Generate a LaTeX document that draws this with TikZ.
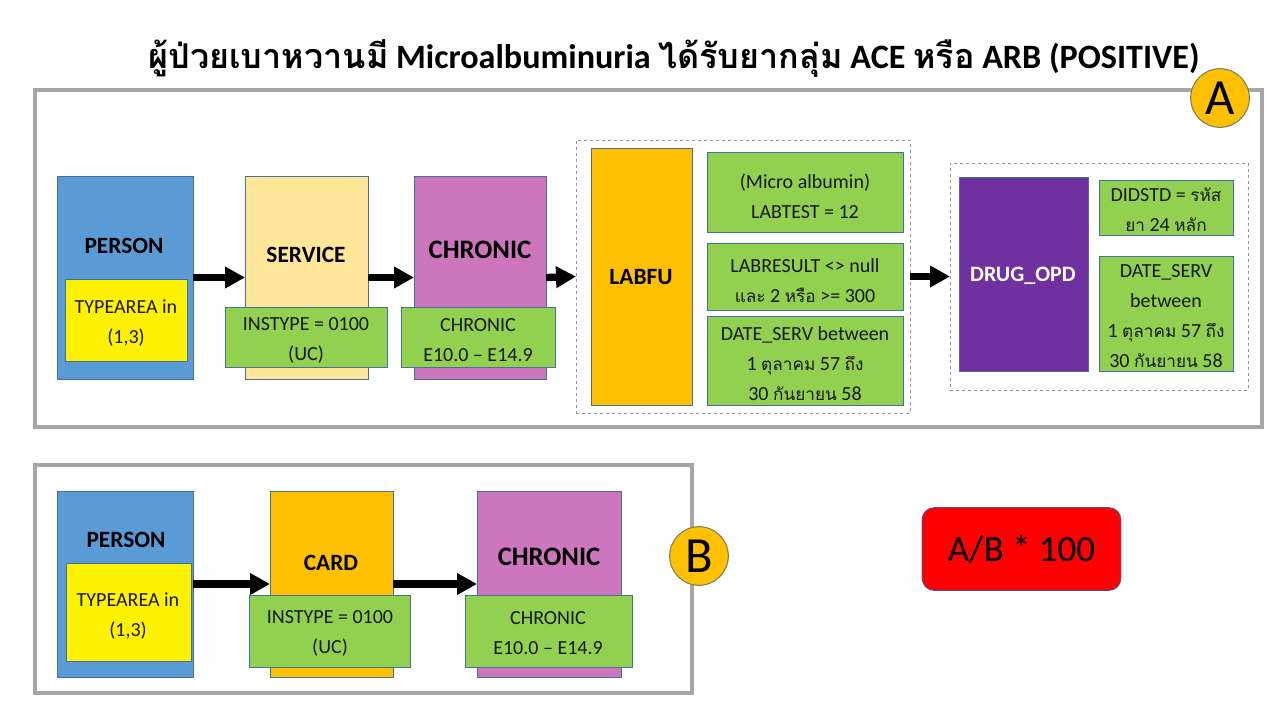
\documentclass[tikz,border=0pt]{standalone}
\usepackage{fontspec}
\setmainfont{Carlito}
\newfontfamily\thai[Script=Thai]{Loma}
\newfontfamily\thaibox[Script=Thai,Scale=0.86]{Loma}
\newcommand\thx[1]{{\thai #1}}
\newcommand\ths[1]{{\thaibox #1}}
\usetikzlibrary{arrows.meta,fit}
\definecolor{frameGray}{HTML}{A6A6A6}
\definecolor{edgeBlue}{HTML}{41719C}
\definecolor{personBlue}{HTML}{5B9BD5}
\definecolor{serviceYel}{HTML}{FFE699}
\definecolor{chronPink}{HTML}{CD76BE}
\definecolor{leafGreen}{HTML}{92D050}
\definecolor{labOrange}{HTML}{FFC000}
\definecolor{drugPurple}{HTML}{7030A0}
\definecolor{dashEdge}{HTML}{8497B0}
\definecolor{circEdge}{HTML}{7A7F5C}
\definecolor{redEdge}{HTML}{5B4B8A}
\tikzset{
  frame/.style={draw=frameGray, line width=3pt},
  rect/.style={draw=edgeBlue, line width=0.6pt, inner sep=0pt, outer sep=0pt},
  grp/.style={draw=dashEdge, dashed, line width=0.7pt, dash pattern=on 2.5pt off 2pt, inner sep=0pt, outer sep=0pt},
  txt/.style={align=center, font=\fontsize{15}{22.5}\selectfont, text=black!90, inner sep=0pt},
  head/.style={font=\bfseries\fontsize{17.5}{20}\selectfont, inner sep=0pt},
  bigarrow/.style={line width=5.5pt, -{Triangle[length=15pt,width=15.5pt]}, black},
  letter/.style={circle, fill=labOrange, draw=circEdge, line width=0.8pt, minimum size=44pt, inner sep=0pt, font=\fontsize{38}{38}\selectfont},
}
\begin{document}
\begin{tikzpicture}[x=0.75pt,y=-0.75pt]
\path[use as bounding box] (0,0) rectangle (1277,717);

% ---------- title ----------
\node[font=\bfseries\fontsize{25.6}{30}\selectfont, inner sep=0pt] (title) at (674,58)
  {\thx{ผู้ป่วยเบาหวานมี} Microalbuminuria \thx{ได้รับยากลุ่ม} ACE \thx{หรือ} ARB (POSITIVE)};

% ---------- panel A ----------
\draw[frame] (35,90) rectangle (1262,427);
\node[letter] (circA) at (1220,98) {A};

\node[rect, fill=personBlue, fit={(57,176) (193,379)}] (personA) {};
\node[head] (personAt) at (124,246) {PERSON};
\node[rect, fill=yellow, fit={(65,279) (187,361)}] (typeA) {};
\node[txt] (typeAt) at (126,323) {TYPEAREA in\\(1,3)};

\node[rect, fill=serviceYel, fit={(245,176) (368,379)}] (serviceA) {};
\node[head] (serviceAt) at (306,255) {SERVICE};
\node[rect, fill=leafGreen, fit={(225,307) (387,367)}] (insA) {};
\node[txt] (insAt) at (306,340) {INSTYPE = 0100\\(UC)};

\node[rect, fill=chronPink, fit={(414,176) (546,379)}] (chronA) {};
\node[head, font=\bfseries\fontsize{20}{22}\selectfont] (chronAt) at (480,250) {CHRONIC};
\node[rect, fill=leafGreen, fit={(401,307) (555,367)}] (icdA) {};
\node[txt] (icdAt) at (478,340) {CHRONIC\\E10.0 -- E14.9};

\node[grp, fit={(576,140) (910,413)}] (labgrp) {};
\node[rect, fill=labOrange, fit={(591,148) (692,405)}] (labfu) {};
\node[head] (labfut) at (641,277) {LABFU};
\node[rect, fill=leafGreen, fit={(707,152) (903,232)}] (lab1) {};
\node[txt] (lab1t) at (805,196) {(Micro albumin)\\LABTEST = 12};
\node[rect, fill=leafGreen, fit={(707,243) (903,310)}] (lab2) {};
\node[txt] (lab2t) at (805,281) {LABRESULT <> null\\\ths{และ} 2 \ths{หรือ} >= 300};
\node[rect, fill=leafGreen, fit={(707,316) (903,405)}] (lab3) {};
\node[txt] (lab3t) at (805,364) {DATE\_SERV between\\1 \ths{ตุลาคม} 57 \ths{ถึง}\\30 \ths{กันยายน} 58};

\node[grp, fit={(950,163) (1248,390)}] (druggrp) {};
\node[rect, fill=drugPurple, fit={(959,177) (1088,371)}] (drug) {};
\node[head, text=white, font=\bfseries\fontsize{16.5}{20}\selectfont] (drugt) at (1023,276) {DRUG\_OPD};
\node[rect, fill=leafGreen, fit={(1099,180) (1233,235)}] (drug1) {};
\node[txt] (drug1t) at (1166,210) {DIDSTD = \ths{รหัส}\\\ths{ยา} 24 \ths{หลัก}};
\node[rect, fill=leafGreen, fit={(1099,256) (1233,371)}] (drug2) {};
\node[txt] (drug2t) at (1166,316) {DATE\_SERV\\between\\1 \ths{ตุลาคม} 57 \ths{ถึง}\\30 \ths{กันยายน} 58};

\draw[bigarrow] (personA.east) -- (serviceA.west);
\draw[bigarrow] (serviceA.east) -- (chronA.west);
\draw[bigarrow] (chronA.east) -- (labgrp.west);
\draw[bigarrow] (labgrp.east) -- (druggrp.west);

% ---------- panel B ----------
\draw[frame] (35,465) rectangle (692,693);
\node[letter] (circB) at (699,556) {B};

\node[rect, fill=personBlue, fit={(57,491) (193,677)}] (personB) {};
\node[head] (personBt) at (126,540) {PERSON};
\node[rect, fill=yellow, fit={(66,563) (191,661)}] (typeB) {};
\node[txt] (typeBt) at (128,616) {TYPEAREA in\\(1,3)};

\node[rect, fill=labOrange, fit={(270,491) (393,677)}] (card) {};
\node[head] (cardt) at (331,563) {CARD};
\node[rect, fill=leafGreen, fit={(249,595) (410,667)}] (insB) {};
\node[txt] (insBt) at (330,633) {INSTYPE = 0100\\(UC)};

\node[rect, fill=chronPink, fit={(477,491) (621,677)}] (chronB) {};
\node[head, font=\bfseries\fontsize{20}{22}\selectfont] (chronBt) at (549,557) {CHRONIC};
\node[rect, fill=leafGreen, fit={(465,595) (632,667)}] (icdB) {};
\node[txt] (icdBt) at (548,633) {CHRONIC\\E10.0 -- E14.9};

\draw[bigarrow] (personB.east) -- (card.west);
\draw[bigarrow] (card.east) -- (chronB.west);

% ---------- result ----------
\node[draw=redEdge, fill=red, line width=0.7pt, rounded corners=9pt,
      minimum width=149pt, minimum height=62pt, inner sep=0pt,
      font=\fontsize{27.8}{30}\selectfont] (result) at (1021.5,549) {A/B * 100};
\end{tikzpicture}
\end{document}
